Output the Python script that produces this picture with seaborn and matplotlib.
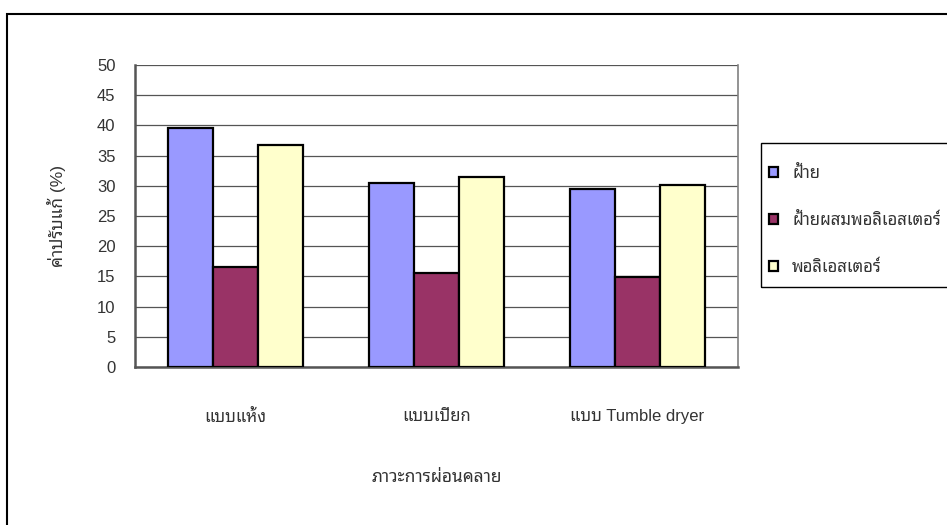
import matplotlib
matplotlib.use("Agg")
import matplotlib.pyplot as plt
from matplotlib.patches import Rectangle
import seaborn as sns
import pandas as pd
import numpy as np

categories = ["แบบแห้ง", "แบบเปียก", "แบบ Tumble dryer"]
series_names = ["ฝ้าย", "ฝ้ายผสมพอลิเอสเตอร์", "พอลิเอสเตอร์"]
cotton = [39.5, 30.5, 29.5]
blend = [16.6, 15.6, 14.9]
polyester = [36.8, 31.4, 30.2]
y_ticks = [0, 5, 10, 15, 20, 25, 30, 35, 40, 45, 50]
x_title = "ภาวะการผ่อนคลาย"
y_title = "ค่าปรับแก้ (%)"
colors = ["#9999FF", "#993366", "#FFFFCC"]

sns.set_style("white")
plt.rcParams["font.family"] = ["Liberation Sans", "Noto Sans Thai Looped"]

rows = []
for name, vals in zip(series_names, [cotton, blend, polyester]):
    for c, v in zip(categories, vals):
        rows.append({"cond": c, "val": v, "mat": name})
df = pd.DataFrame(rows)

FS = 12
W, H = 947, 525
fig = plt.figure(figsize=(W / 100, H / 100), dpi=100)
L, R, T, B = 135, 738, 65, 367
ax = fig.add_axes([L / W, 1 - B / H, (R - L) / W, (B - T) / H])

sns.barplot(data=df, x="cond", y="val", hue="mat", order=categories,
            hue_order=series_names, palette=colors, saturation=1,
            width=0.67, gap=0, edgecolor="black", linewidth=1.6, ax=ax,
            zorder=3)

ax.set_xlim(-0.5, 2.5)
ax.set_ylim(0, 50)
ax.set_yticks(y_ticks)
ax.set_yticklabels([str(t) for t in y_ticks], fontsize=12, color="#333333")
ax.yaxis.grid(True, color="#555555", linewidth=0.9, zorder=0)
ax.set_axisbelow(True)

ax.set_xticks([-0.5, 0.5, 1.5, 2.5])
ax.set_xticklabels([])
ax.set_xticks([0, 1, 2], minor=True)
ax.set_xticklabels(categories, minor=True, fontsize=FS, color="#333333")
ax.tick_params(axis="x", which="minor", length=0, pad=30)
ax.tick_params(axis="x", which="major", length=5, width=1.2, color="#555555", direction="out")
ax.tick_params(axis="y", length=6, width=1.2, color="#555555", direction="out", pad=8)
ax.set_xlabel("")
ax.set_ylabel("")

ax.spines["top"].set_visible(False)
ax.spines["right"].set_color("#808080")
ax.spines["right"].set_linewidth(1.2)
for s in ["left", "bottom"]:
    ax.spines[s].set_color("#555555")
    ax.spines[s].set_linewidth(1.8)

fig.text((L + R) / 2 / W, 1 - 478 / H, x_title, ha="center", va="center",
         fontsize=12.5, color="#333333")
fig.text(57 / W, 1 - 216 / H, y_title, ha="center", va="center",
         rotation=90, fontsize=12.5, color="#333333")

handles, labels = ax.get_legend_handles_labels()
if ax.get_legend() is not None:
    ax.get_legend().remove()
# legend frame (right side runs past the figure edge as in the reference)
fig.patches.append(Rectangle((761 / W, 1 - 287 / H), 1.0, 144 / H,
                             transform=fig.transFigure, fill=False,
                             edgecolor="black", linewidth=1.0))
leg = fig.legend(handles, labels, loc="upper left",
                 bbox_to_anchor=(769 / W, 1 - 165 / H),
                 frameon=False, fontsize=FS,
                 handlelength=0.55, handleheight=0.55, handletextpad=0.83,
                 labelspacing=1.87, borderpad=0, borderaxespad=0)
for t in leg.get_texts():
    t.set_color("#333333")

fig.patches.append(Rectangle((6.5 / W, -0.1), 2, 1 - 13.5 / H + 0.1,
                             transform=fig.transFigure, fill=False,
                             edgecolor="black", linewidth=1.5))

fig.savefig("out.png", dpi=100)
